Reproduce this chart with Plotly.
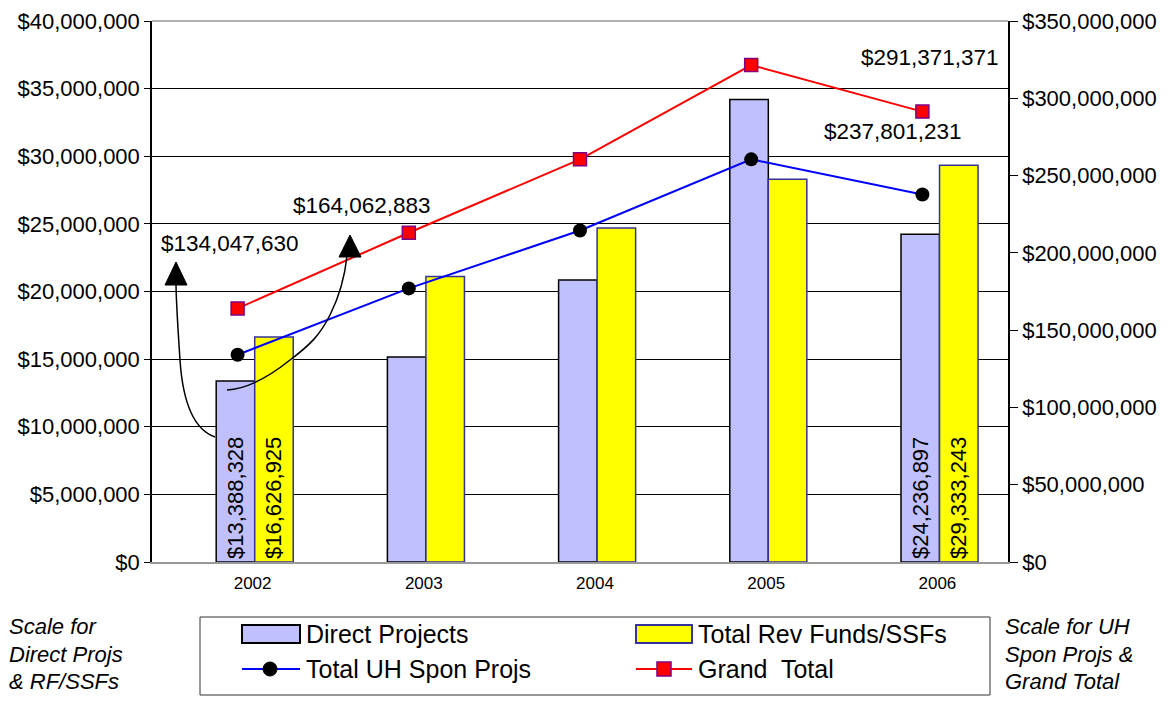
import plotly.graph_objects as go

years = ["2002", "2003", "2004", "2005", "2006"]
direct_projects = [13388328, 15150000, 20850000, 34200000, 24236897]
rev_funds = [16626925, 21100000, 24700000, 28300000, 29333243]
uh_spon = [134047630, 177000000, 214500000, 260500000, 237801231]
grand_total = [164062883, 213000000, 260500000, 321500000, 291371371]
labeled_years = ["2002", "2006"]

left_ticks = list(range(0, 40000001, 5000000))
right_ticks = list(range(0, 350000001, 50000000))

FONT = "Arial, Liberation Sans, sans-serif"
# page body has an 8px margin, so the figure is drawn 8px smaller and shifted
OFF = 8
W, H = 1170 - 2 * OFF, 704 - 2 * OFF
# plot area in page pixels: x 152..1008, y 21..562
PL, PR, PT, PB = 152, 1008, 21, 562
L, R, T, B = PL - OFF, W - (PR - OFF), PT - OFF, H - (PB - OFF)
PW, PH = PR - PL, PB - PT


def px(x):
    return (x - PL) / PW


def py(y):
    return (PB - y) / PH


def money(v):
    return "${:,}".format(int(v))


def bar_text(vals):
    return [money(v) if y in labeled_years else "" for y, v in zip(years, vals)]


fig = go.Figure()
fig.add_trace(go.Bar(
    x=years, y=direct_projects, name="Direct Projects",
    marker=dict(color="#C0C0FF", line=dict(color="#000000", width=1.5)),
    width=0.225, offset=-0.125,
    text=bar_text(direct_projects), textposition="inside", insidetextanchor="start",
    textangle=-90, textfont=dict(size=22, color="black", family=FONT),
    constraintext="none", showlegend=False,
))
fig.add_trace(go.Bar(
    x=years, y=rev_funds, name="Total Rev Funds/SSFs",
    marker=dict(color="#FFFF00", line=dict(color="#333399", width=1.5)),
    width=0.225, offset=0.1,
    text=bar_text(rev_funds), textposition="inside", insidetextanchor="start",
    textangle=-90, textfont=dict(size=22, color="black", family=FONT),
    constraintext="none", showlegend=False,
))
fig.add_trace(go.Scatter(
    x=years, y=uh_spon, name="Total UH Spon Projs", yaxis="y2", mode="lines+markers",
    line=dict(color="#0000FF", width=2),
    marker=dict(symbol="circle", size=14, color="#000000"),
    showlegend=False,
))
fig.add_trace(go.Scatter(
    x=years, y=grand_total, name="Grand  Total", yaxis="y2", mode="lines+markers",
    line=dict(color="#FF0000", width=2),
    marker=dict(symbol="square", size=13, color="#FF0000", line=dict(color="#800080", width=1.5)),
    showlegend=False,
))

shapes = []
annotations = []

# top border (gray)
shapes.append(dict(type="line", xref="paper", yref="paper", x0=0, x1=1, y0=1, y1=1,
                   line=dict(color="#999999", width=1.5)))


def pth(points):
    s = ""
    for cmd, pts in points:
        s += cmd + " ".join("{:.5f},{:.5f}".format(px(a), py(b)) for a, b in pts) + " "
    return s.strip()


# curved arrows
arrow1 = pth([("M", [(215, 437)]), ("C", [(195, 430), (183, 405), (180, 360)]),
              ("C", [(178, 330), (176, 300), (176, 283)])])
arrow2 = pth([("M", [(227, 390)]), ("C", [(245, 389), (265, 380), (290, 360)]),
              ("C", [(310, 345), (320, 335), (330, 315)]),
              ("C", [(340, 295), (345, 275), (347, 256)])])
head1 = pth([("M", [(176, 262)]), ("L", [(165, 285)]), ("L", [(187, 285)])]) + " Z"
head2 = pth([("M", [(350, 235)]), ("L", [(339, 257)]), ("L", [(361, 257)])]) + " Z"
for p in (arrow1, arrow2):
    shapes.append(dict(type="path", xref="paper", yref="paper", path=p,
                       line=dict(color="black", width=1.5)))
for p in (head1, head2):
    shapes.append(dict(type="path", xref="paper", yref="paper", path=p,
                       fillcolor="black", line=dict(color="black", width=1)))

# value labels
val_labels = [
    (money(uh_spon[0]), 230, 243),
    (money(grand_total[0]), 362, 205),
    (money(grand_total[4]), 930, 58),
    (money(uh_spon[4]), 893, 131),
]
for txt, x, y in val_labels:
    annotations.append(dict(text=txt, xref="paper", yref="paper", x=px(x), y=py(y),
                            xanchor="center", yanchor="middle", showarrow=False,
                            font=dict(size=22.5, color="black", family=FONT)))

# custom legend
shapes.append(dict(type="rect", xref="paper", yref="paper", x0=px(200), x1=px(990),
                   y0=py(695), y1=py(617), fillcolor="white", line=dict(color="#333333", width=1)))
shapes.append(dict(type="rect", xref="paper", yref="paper", x0=px(242), x1=px(300),
                   y0=py(643), y1=py(625), fillcolor="#C0C0FF", line=dict(color="black", width=2)))
shapes.append(dict(type="rect", xref="paper", yref="paper", x0=px(636), x1=px(692),
                   y0=py(643), y1=py(625), fillcolor="#FFFF00", line=dict(color="#333399", width=2)))
shapes.append(dict(type="line", xref="paper", yref="paper", x0=px(242), x1=px(300),
                   y0=py(669), y1=py(669), line=dict(color="#0000FF", width=2)))
shapes.append(dict(type="circle", xref="paper", yref="paper", x0=px(263), x1=px(277),
                   y0=py(676), y1=py(662), fillcolor="black", line=dict(color="black", width=1)))
shapes.append(dict(type="line", xref="paper", yref="paper", x0=px(636), x1=px(692),
                   y0=py(669), y1=py(669), line=dict(color="#FF0000", width=2)))
shapes.append(dict(type="rect", xref="paper", yref="paper", x0=px(657), x1=px(671),
                   y0=py(676), y1=py(662), fillcolor="#FF0000", line=dict(color="#800080", width=1.5)))
legend_texts = [
    ("Direct Projects", 304, 634),
    ("Total Rev Funds/SSFs", 696, 634),
    ("Total UH Spon Projs", 304, 669),
    ("Grand  Total", 696, 669),
]
for txt, x, y in legend_texts:
    annotations.append(dict(text=txt, xref="paper", yref="paper", x=px(x), y=py(y),
                            xanchor="left", yanchor="middle", showarrow=False,
                            font=dict(size=25, color="black", family=FONT)))

side_texts = [
    ("Scale for", 8, 626), ("Direct Projs", 8, 654), ("& RF/SSFs", 8, 681),
    ("Scale for UH", 1004, 626), ("Spon Projs &", 1004, 654), ("Grand Total", 1004, 681),
]
for txt, x, y in side_texts:
    annotations.append(dict(text="<i>" + txt + "</i>", xref="paper", yref="paper",
                            x=px(x), y=py(y), xanchor="left", yanchor="middle",
                            showarrow=False, borderpad=0,
                            font=dict(size=22, color="black", family=FONT)))

fig.update_layout(
    width=W, height=H,
    margin=dict(l=L, r=R, t=T, b=B, autoexpand=False),
    paper_bgcolor="white", plot_bgcolor="white",
    font=dict(family=FONT, color="black"),
    barmode="group",
    showlegend=False,
    xaxis=dict(type="category", categoryorder="array", categoryarray=years,
               showline=True, linecolor="#999999", linewidth=2, ticks="",
               showgrid=False, tickfont=dict(size=17), ticklabelshift=15,
               ticklabelstandoff=5),
    yaxis=dict(range=[0, 40000000], tickvals=left_ticks,
               ticktext=[money(v) for v in left_ticks],
               showgrid=True, gridcolor="black", gridwidth=1, zeroline=False,
               showline=True, linecolor="black", linewidth=1.5,
               ticks="outside", ticklen=6, tickcolor="black",
               ticklabeloverflow="allow",
               tickfont=dict(size=22)),
    yaxis2=dict(range=[0, 350000000], tickvals=right_ticks,
                ticktext=[money(v) for v in right_ticks],
                overlaying="y", side="right", showgrid=False, zeroline=False,
                showline=True, linecolor="black", linewidth=1.5,
                ticks="outside", ticklen=8, tickcolor="black",
                ticklabeloverflow="allow",
                tickfont=dict(size=22)),
    shapes=shapes,
    annotations=annotations,
)

fig.write_html("out.html")
